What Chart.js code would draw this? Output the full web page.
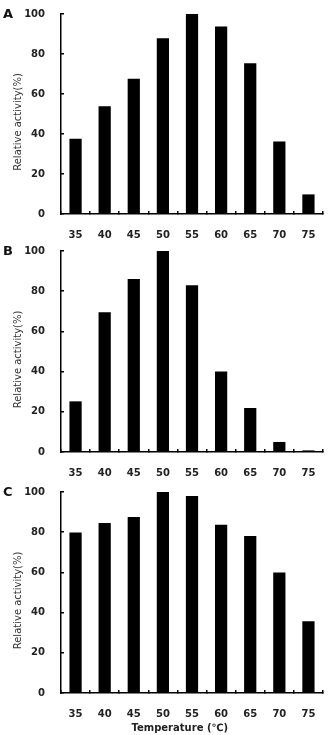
<!DOCTYPE html>
<html>
<head>
<meta charset="utf-8">
<script src="https://cdn.jsdelivr.net/npm/chart.js@4"></script>
<style>
body { margin: 0; background: #fff; width: 328px; height: 735px; position: relative; overflow: hidden; }
.panel { position: absolute; left: 0; width: 328px; }
</style>
</head>
<body>
<div class="panel" style="top:0;height:240px"><canvas id="chartA"></canvas></div>
<div class="panel" style="top:240px;height:240px"><canvas id="chartB"></canvas></div>
<div class="panel" style="top:480px;height:255px"><canvas id="chartC"></canvas></div>
<script>
const temperatures = ['35', '40', '45', '50', '55', '60', '65', '70', '75'];
const activityA = [37.6, 53.9, 67.6, 87.9, 100, 93.8, 75.4, 36.3, 9.8];
const activityB = [25.2, 69.5, 86.1, 100, 82.9, 40.1, 21.9, 5.0, 0.8];
const activityC = [79.8, 84.6, 87.6, 100, 98.0, 83.7, 78.1, 60.0, 35.7];
const yTicks = [0, 20, 40, 60, 80, 100];

const FONT = '"DejaVu Sans", sans-serif';

// draws the panel letter (A, B, C) in the top left corner
const panelLabel = {
    id: 'panelLabel',
    afterDraw(chart, args, opts) {
        const ctx = chart.ctx;
        ctx.save();
        ctx.font = 'bold 13px ' + FONT;
        ctx.fillStyle = '#111';
        ctx.textBaseline = 'middle';
        ctx.fillText(opts.text, 3, opts.y);
        ctx.restore();
    }
};

function makeChart(id, values, letter, letterY, padTop, xHeight, showXTitle) {
    const ctx = document.getElementById(id).getContext('2d');
    return new Chart(ctx, {
        type: 'bar',
        data: {
            labels: temperatures,
            datasets: [{
                data: values,
                backgroundColor: '#000',
                borderWidth: 0,
                categoryPercentage: 1,
                barPercentage: 0.42
            }]
        },
        options: {
            responsive: true,
            maintainAspectRatio: false,
            animation: false,
            layout: { padding: { top: padTop, right: 5, left: 0, bottom: 0 } },
            plugins: {
                legend: { display: false },
                tooltip: { enabled: false },
                panelLabel: { text: letter, y: letterY }
            },
            scales: {
                x: {
                    grid: { drawOnChartArea: false, drawTicks: true, tickLength: -3, color: '#000', lineWidth: 1.5 },
                    border: { color: '#000', width: 1.5 },
                    ticks: { color: '#222', padding: 18, font: { family: FONT, size: 10, weight: 'bold' } },
                    title: {
                        display: showXTitle,
                        text: 'Temperature (\u2103)' + '\u00a0'.repeat(7),
                        color: '#222',
                        padding: { top: 0, bottom: 1 },
                        font: { family: FONT, size: 10, weight: 'bold' }
                    },
                    afterFit(scale) {
                        scale.height = xHeight;
                        scale.paddingLeft = 0;
                        scale.paddingRight = 0;
                    }
                },
                y: {
                    min: 0,
                    max: 100,
                    afterBuildTicks(scale) { scale.ticks = yTicks.map(v => ({ value: v })); },
                    grid: { drawOnChartArea: false, drawTicks: true, tickLength: -3, color: '#000', lineWidth: 1.5 },
                    border: { color: '#000', width: 1.5 },
                    ticks: { color: '#222', padding: 19, font: { family: FONT, size: 10, weight: 'bold' } },
                    title: {
                        display: true,
                        text: 'Relative activity(%)' + '\u00a0'.repeat(5),
                        color: '#333',
                        padding: { top: 12, bottom: 0 },
                        font: { family: FONT, size: 10 }
                    },
                    afterFit(scale) {
                        scale.width = 61;
                        scale.paddingTop = 0;
                        scale.paddingBottom = 0;
                    }
                }
            }
        },
        plugins: [panelLabel]
    });
}

document.addEventListener('DOMContentLoaded', function() {
    makeChart('chartA', activityA, 'A', 15, 14, 26, false);
    makeChart('chartB', activityB, 'B', 12, 11, 28, false);
    makeChart('chartC', activityC, 'C', 13, 12, 42, true);
});
</script>
</body>
</html>
